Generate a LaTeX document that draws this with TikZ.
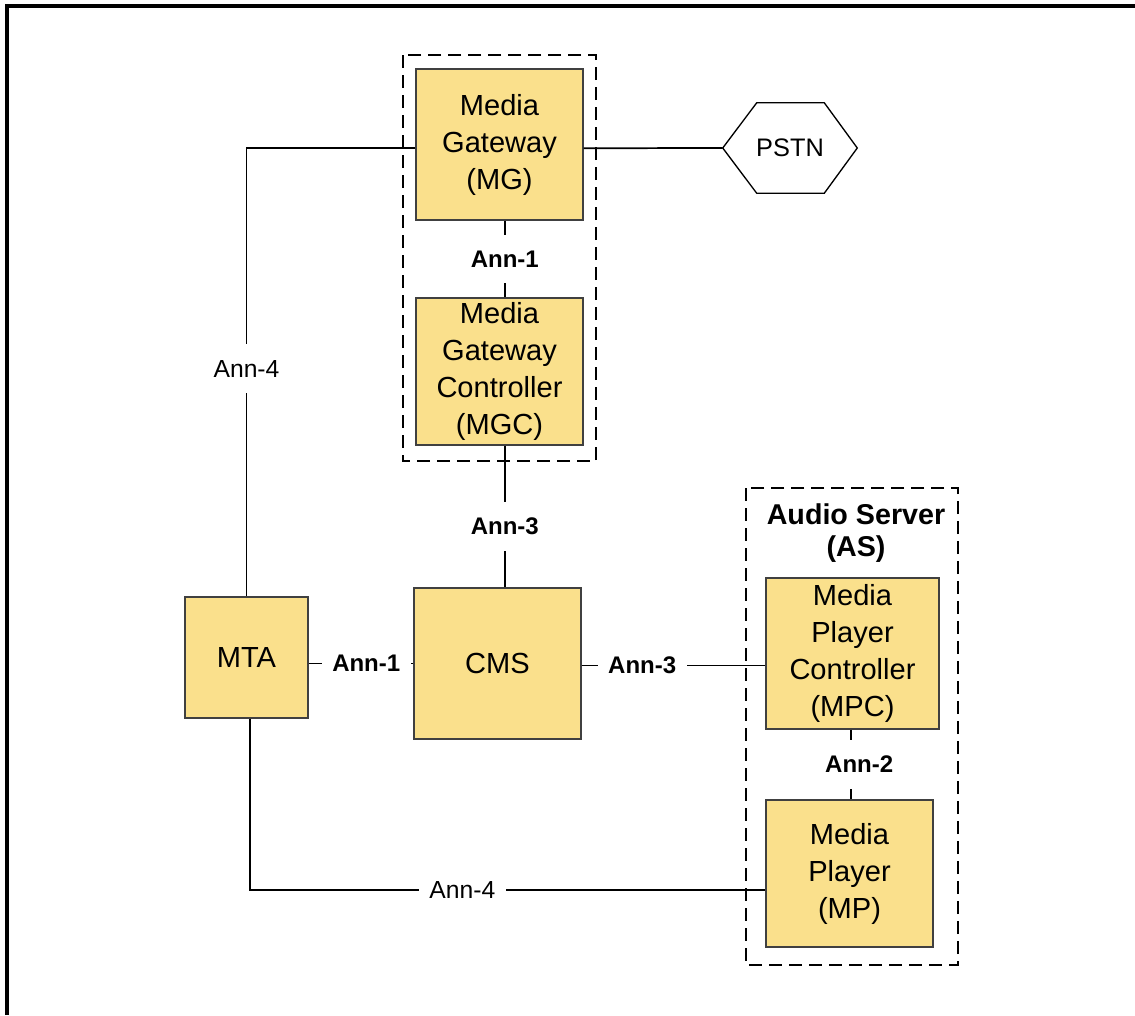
\documentclass[tikz,border=0pt]{standalone}
\usepackage{fontspec}
\setmainfont{Liberation Sans}
\usetikzlibrary{calc}
\definecolor{boxfill}{RGB}{250,224,140}

\tikzset{
  unit/.style={draw=black!75, line width=0.8pt, fill=boxfill, inner sep=0pt, align=center, font=\fontsize{21.8}{27.75}\selectfont},
  ann/.style={fill=white, inner xsep=8pt, inner ysep=12pt, font=\fontsize{18}{22}\selectfont\bfseries},
  annplain/.style={fill=white, inner xsep=8pt, inner ysep=12pt, font=\fontsize{18.5}{22}\selectfont},
  group/.style={dash pattern=on 10pt off 5pt, line width=1.4pt},
  link/.style={line width=1.3pt},
}

\begin{document}
\begin{tikzpicture}[x=0.75pt,y=0.75pt,yscale=-1,xscale=1]
\useasboundingbox (0,0) rectangle (1135,1015);

%Frame
\draw[line width=2.3pt] (7,1015) -- (7,6) -- (1135,6);

%Groups
\draw[group] (403,55) rectangle (596,461);
\draw[group] (746,488) rectangle (958,965);

%Units
\node[unit, minimum width=125.25pt, minimum height=113.25pt] (mg) at (499.5,144.5) {Media\\Gateway\\(MG)};
\node[unit, minimum width=125.25pt, minimum height=110.25pt] (mgc) at (499.5,371.5) {Media\\Gateway\\Controller\\(MGC)};
\node[unit, minimum width=92.25pt, minimum height=90.75pt] (mta) at (246.5,657.5) {MTA};
\node[unit, minimum width=125.25pt, minimum height=113.25pt] (cms) at (497.5,663.5) {CMS};
\node[unit, minimum width=129.75pt, minimum height=113.25pt] (mpc) at (852.5,653.5) {Media\\Player\\Controller\\(MPC)};
\node[unit, minimum width=125.25pt, minimum height=110.25pt] (mp) at (849.5,873.5) {Media\\Player\\(MP)};
\node[font=\fontsize{21.5}{24}\selectfont\bfseries, align=center] (astitle) at (856,533) {Audio Server\\(AS)};

%Shape: PSTN
\node[minimum width=100.5pt, minimum height=67.5pt, inner sep=0pt, font=\fontsize{19}{22}\selectfont] (pstn) at (790,148) {PSTN};
\draw[line width=1pt] (pstn.west) -- ($(pstn.north west)+(34,0)$) -- ($(pstn.north east)+(-33,0)$) -- (pstn.east) -- ($(pstn.south east)+(-33,0)$) -- ($(pstn.south west)+(34,0)$) -- cycle;

%Links
\draw[link] ([yshift=2.8pt]mg.west) -| node[annplain, pos=0.746] {Ann-4} (mta.north);
\draw[link] ([yshift=2.8pt]mg.east) -- (pstn.west);
\draw[link] ([xshift=4pt]mg.south) -- node[ann] {Ann-1} ([xshift=4pt]mgc.north);
\draw[link] ([xshift=4pt]mgc.south) -- node[ann, pos=0.57] {Ann-3} ([xshift=4pt]mgc.south |- cms.north);
\draw[link] (mta.east |- cms.west) -- node[ann, pos=0.55] {Ann-1} (cms.west);
\draw[link] ([yshift=1.5pt]cms.east) -- node[ann, pos=0.33] {Ann-3} ([yshift=1.5pt]cms.east -| mpc.west);
\draw[link] ([xshift=-1pt]mpc.south) -- node[ann, xshift=6pt] {Ann-2} ([xshift=-1pt]mpc.south |- mp.north);
\draw[link] ([xshift=2.6pt]mta.south) |- node[annplain, pos=0.706] {Ann-4} ([yshift=12.4pt]mp.west);

\end{tikzpicture}
\end{document}
